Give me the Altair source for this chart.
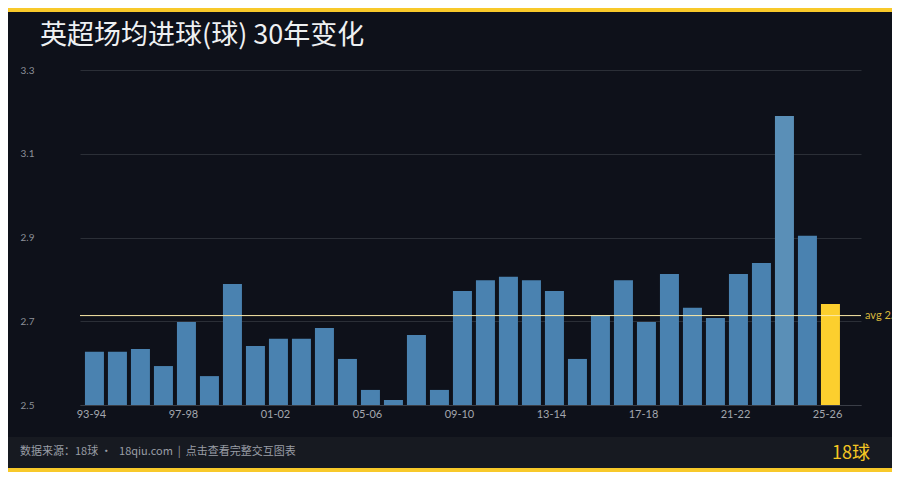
import altair as alt
import pandas as pd

# ---- data ----
seasons = ["93-94", "94-95", "95-96", "96-97", "97-98", "98-99", "99-00", "00-01",
           "01-02", "02-03", "03-04", "04-05", "05-06", "06-07", "07-08", "08-09",
           "09-10", "10-11", "11-12", "12-13", "13-14", "14-15", "15-16", "16-17",
           "17-18", "18-19", "19-20", "20-21", "21-22", "22-23", "23-24", "24-25",
           "25-26"]
goals = [2.627, 2.627, 2.634, 2.593, 2.698, 2.569, 2.789, 2.641,
         2.658, 2.658, 2.684, 2.610, 2.536, 2.512, 2.667, 2.536,
         2.772, 2.798, 2.806, 2.798, 2.772, 2.610, 2.715, 2.798,
         2.698, 2.813, 2.732, 2.708, 2.813, 2.839, 3.190, 2.904,
         2.741]
kind = ["base"] * 30 + ["max", "base", "current"]
tick_labels = ["93-94", "97-98", "01-02", "05-06", "09-10", "13-14", "17-18", "21-22", "25-26"]
y_ticks = [2.5, 2.7, 2.9, 3.1, 3.3]

TITLE = "英超场均进球(球) 30年变化"
FOOTER = "数据来源：18球 ·\u00a0\u00a0 18qiu.com\u00a0\u00a0|\u00a0\u00a0点击查看完整交互图表"
BRAND = "18球"

df = pd.DataFrame({"season": seasons, "goals": goals, "kind": kind})
avg_val = float(df["goals"].mean())
avg_df = pd.DataFrame({"avg": [avg_val], "label": [f"avg {avg_val:.2f}"]})
one = pd.DataFrame({"a": [0]})

CJK = "Noto Sans CJK SC"
W, H = 781, 335

x_enc = alt.X("season:N", sort=seasons,
              scale=alt.Scale(paddingInner=0.174, paddingOuter=0.565, align=0.19),
              axis=alt.Axis(title=None, values=tick_labels, labelAngle=0, ticks=False,
                            labelPadding=3, labelOffset=-3, labelColor="#a3a7ae",
                            labelFontSize=11, labelFont="Lato", domainColor="#3a3e47",
                            grid=False))
y_enc = alt.Y("goals:Q",
              scale=alt.Scale(domain=[2.5, 3.3], nice=False, zero=False),
              axis=alt.Axis(title=None, values=y_ticks, format=".1f", domain=False,
                            ticks=False, tickSize=0, labelAlign="left", labelPadding=60,
                            labelColor="#8c9098", labelFontSize=10, labelFont="Lato",
                            grid=True, gridColor="#2b2f37", gridWidth=1))

bars = alt.Chart(df).mark_bar(clip=True).encode(
    x=x_enc,
    y=y_enc,
    y2=alt.datum(2.5),
    color=alt.Color("kind:N", legend=None,
                    scale=alt.Scale(domain=["base", "max", "current"],
                                    range=["#4a82b0", "#5a8fb7", "#fccf2e"])),
)

avg_rule = alt.Chart(avg_df).mark_rule(color="#fbeaa8", strokeWidth=1).encode(
    y=alt.Y("avg:Q")
)
avg_text = alt.Chart(avg_df).mark_text(
    align="left", baseline="middle", color="#d9b83c", fontSize=11, font="Lato"
).encode(x=alt.value(785), y=alt.Y("avg:Q"), text="label:N")

footer_bg = alt.Chart(one).mark_rect(color="#171a21").encode(
    x=alt.value(-90), x2=alt.value(830), y=alt.value(367), y2=alt.value(398))
bottom_bar = alt.Chart(one).mark_rect(color="#f8c92a").encode(
    x=alt.value(-90), x2=alt.value(830), y=alt.value(398), y2=alt.value(406))
top_bar = alt.Chart(one).mark_rect(color="#f8c92a").encode(
    x=alt.value(-90), x2=alt.value(830), y=alt.value(-70), y2=alt.value(-58))

title = alt.Chart(one).mark_text(
    text=TITLE, align="left", baseline="alphabetic", fontSize=27, font=CJK,
    color="#eef0f2"
).encode(x=alt.value(-40), y=alt.value(-26))
footer = alt.Chart(one).mark_text(
    text=FOOTER, align="left", baseline="middle", fontSize=11, font=CJK,
    color="#9a9ea6"
).encode(x=alt.value(-60), y=alt.value(382))
brand = alt.Chart(one).mark_text(
    text=BRAND, align="left", baseline="middle", fontSize=18, font=CJK,
    color="#f5c623"
).encode(x=alt.value(752), y=alt.value(384))

chart = alt.layer(
    footer_bg, bottom_bar, top_bar, bars, avg_rule, avg_text, title, footer, brand
).properties(
    width=W, height=H, background="#0e111a",
    padding={"left": 72, "top": 62, "right": 31, "bottom": 67},
    autosize=alt.AutoSizeParams(type="none"),
).configure_view(stroke=None)

chart.save("out.html", embed_options={"renderer": "svg", "actions": False})
